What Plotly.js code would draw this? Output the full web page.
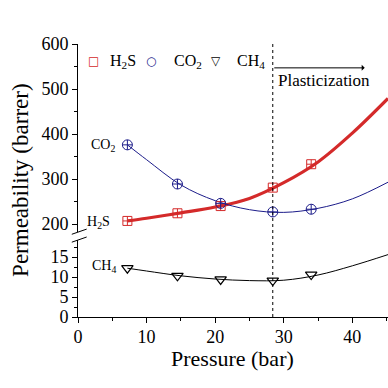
<!DOCTYPE html>
<html>
<head>
<meta charset="utf-8">
<script src="https://cdn.plot.ly/plotly-3.0.1.min.js"></script>
<style>html,body{margin:0;padding:0;background:#fff;}#chart{width:388px;height:388px;}</style>
</head>
<body>
<div id="chart"></div>
<script>
// Measured data
const pressure = [7.2, 14.5, 20.8, 28.4, 34.0];
const h2s = [207, 224, 240, 281, 333];
const co2 = [376, 289, 246, 227, 233];
const ch4 = [12.2, 10.3, 9.4, 9.1, 10.6];

// Fitted curves
const fitPressure = [7.2, 10, 15, 20, 25, 30, 35, 40, 45.2];
const h2sFit = [207, 213, 225, 238, 257, 292, 338, 402, 479];
const co2Fit = [376, 343, 287, 252, 232, 226, 235, 256, 293];
const ch4Fit = [12.2, 11.5, 10.3, 9.5, 9.1, 9.2, 10.5, 12.8, 15.6];

const gasNames = ['H<sub>2</sub>S', 'CO<sub>2</sub>', 'CH<sub>4</sub>'];
const legendSymbols = ['\u25A1', '\u25CB', '\u25BD'];

const plasticizationP = 28.4;

const RED = '#d42a2a', NAVY = '#1c1c8a', BLACK = '#000000';
const FONT = 'Liberation Serif, Times New Roman, serif';
const gasColors = [RED, NAVY, BLACK];

const traces = [
  {x: fitPressure, y: h2sFit, yaxis: 'y2', mode: 'lines', line: {color: RED, width: 3.2, shape: 'spline'}, showlegend: false, hoverinfo: 'skip'},
  {x: fitPressure, y: co2Fit, yaxis: 'y2', mode: 'lines', line: {color: NAVY, width: 1, shape: 'spline'}, showlegend: false, hoverinfo: 'skip'},
  {x: fitPressure, y: ch4Fit, yaxis: 'y', mode: 'lines', line: {color: BLACK, width: 1, shape: 'spline'}, showlegend: false, hoverinfo: 'skip'},
  {x: pressure, y: h2s, yaxis: 'y2', mode: 'markers', name: gasNames[0], marker: {symbol: 'square-cross-open', size: 9, color: RED, line: {width: 1, color: RED}}, showlegend: false},
  {x: pressure, y: co2, yaxis: 'y2', mode: 'markers', name: gasNames[1], marker: {symbol: 'circle-cross-open', size: 10, color: NAVY, line: {width: 1, color: NAVY}}, showlegend: false},
  {x: pressure, y: ch4, yaxis: 'y', mode: 'markers', name: gasNames[2], marker: {symbol: 'triangle-down-open', size: 10, color: BLACK, line: {width: 1.2, color: BLACK}}, showlegend: false}
];

const axisCommon = {
  showline: true, linecolor: BLACK, linewidth: 1, mirror: false,
  ticks: 'outside', ticklen: 5, tickwidth: 1, tickcolor: BLACK,
  showgrid: false, zeroline: false,
  tickfont: {family: FONT, size: 18, color: BLACK}
};

// Legend drawn as text (symbol + name) along the top of the plot
const legendSymX = [0.0516, 0.2355, 0.4452];
const legendTxtX = [0.0968, 0.3032, 0.5065];
const legendY = 0.9377;
const legendAnn = [];
for (let i = 0; i < gasNames.length; i++) {
  legendAnn.push({text: legendSymbols[i], xref: 'paper', yref: 'paper', x: legendSymX[i], y: legendY,
    xanchor: 'center', yanchor: 'middle', showarrow: false,
    font: {family: 'DejaVu Sans', size: 12, color: gasColors[i]}});
  legendAnn.push({text: gasNames[i], xref: 'paper', yref: 'paper', x: legendTxtX[i], y: legendY,
    xanchor: 'left', yanchor: 'middle', showarrow: false,
    font: {family: FONT, size: 16, color: BLACK}});
}

const layout = {
  width: 388, height: 388,
  margin: {l: 78, r: 0, t: 44, b: 71, pad: 0},
  paper_bgcolor: '#ffffff', plot_bgcolor: '#ffffff',
  font: {family: FONT, color: BLACK},
  showlegend: false,
  xaxis: Object.assign({}, axisCommon, {range: [0, 45.2], dtick: 10, tick0: 0, anchor: 'y', ticklabelstandoff: -2,
          minor: {dtick: 5, ticklen: 3, ticks: 'outside', tickcolor: BLACK}}),
  xaxis2: {overlaying: 'x', matches: 'x', anchor: 'y2', side: 'top', showline: true, linecolor: BLACK, linewidth: 1,
           ticks: 'inside', ticklen: 5, tickcolor: BLACK, showticklabels: false, showgrid: false, zeroline: false,
           range: [0, 45.2], dtick: 10, tick0: 0,
           minor: {dtick: 5, ticklen: 3, ticks: 'inside', tickcolor: BLACK}},
  yaxis: Object.assign({}, axisCommon, {domain: [0, 0.282], range: [0, 19.25], dtick: 5, tick0: 0,
          minor: {dtick: 2.5, ticklen: 3, ticks: 'outside', tickcolor: BLACK}}),
  yaxis2: Object.assign({}, axisCommon, {domain: [0.311, 1], range: [182.2, 600], dtick: 100, tick0: 0, anchor: 'x',
          minor: {dtick: 50, ticklen: 3, ticks: 'outside', tickcolor: BLACK}}),
  shapes: [
    {type: 'line', xref: 'x', yref: 'paper', x0: plasticizationP, x1: plasticizationP, y0: 0, y1: 1,
     line: {color: BLACK, width: 1, dash: 'dot'}},
    {type: 'line', xref: 'paper', yref: 'paper', x0: -0.02, x1: 0.028, y0: 0.303, y1: 0.322, line: {color: BLACK, width: 1}},
    {type: 'line', xref: 'paper', yref: 'paper', x0: -0.02, x1: 0.028, y0: 0.274, y1: 0.293, line: {color: BLACK, width: 1}}
  ],
  annotations: [
    {text: 'Permeability (barrer)', xref: 'paper', yref: 'paper', x: -0.184, y: 0.502, textangle: -90,
     showarrow: false, xanchor: 'center', yanchor: 'middle', font: {family: FONT, size: 23, color: BLACK}},
    {text: 'Pressure (bar)', xref: 'paper', yref: 'paper', x: 0.497, y: -0.152,
     showarrow: false, xanchor: 'center', yanchor: 'middle', font: {family: FONT, size: 22, color: BLACK}},
    {text: gasNames[1], xref: 'x', yref: 'y2', x: 5.7, y: 375, xanchor: 'right', yanchor: 'middle',
     showarrow: false, font: {family: FONT, size: 14, color: BLACK}},
    {text: gasNames[0], xref: 'x', yref: 'y2', x: 5.0, y: 203, xanchor: 'right', yanchor: 'middle',
     showarrow: false, font: {family: FONT, size: 14, color: BLACK}},
    {text: gasNames[2], xref: 'x', yref: 'y', x: 5.85, y: 12.6, xanchor: 'right', yanchor: 'middle',
     showarrow: false, font: {family: FONT, size: 14, color: BLACK}},
    {text: '', xref: 'x', yref: 'y2', x: 41.8, y: 547, axref: 'x', ayref: 'y2', ax: plasticizationP, ay: 547,
     showarrow: true, arrowhead: 1, arrowsize: 1, arrowwidth: 1, arrowcolor: BLACK},
    {text: 'Plasticization', xref: 'x', yref: 'y2', x: 28.8, y: 518, xanchor: 'left', yanchor: 'middle',
     showarrow: false, font: {family: FONT, size: 17, color: BLACK}}
  ].concat(legendAnn)
};

Plotly.newPlot('chart', traces, layout, {staticPlot: true, displayModeBar: false});
</script>
</body>
</html>
